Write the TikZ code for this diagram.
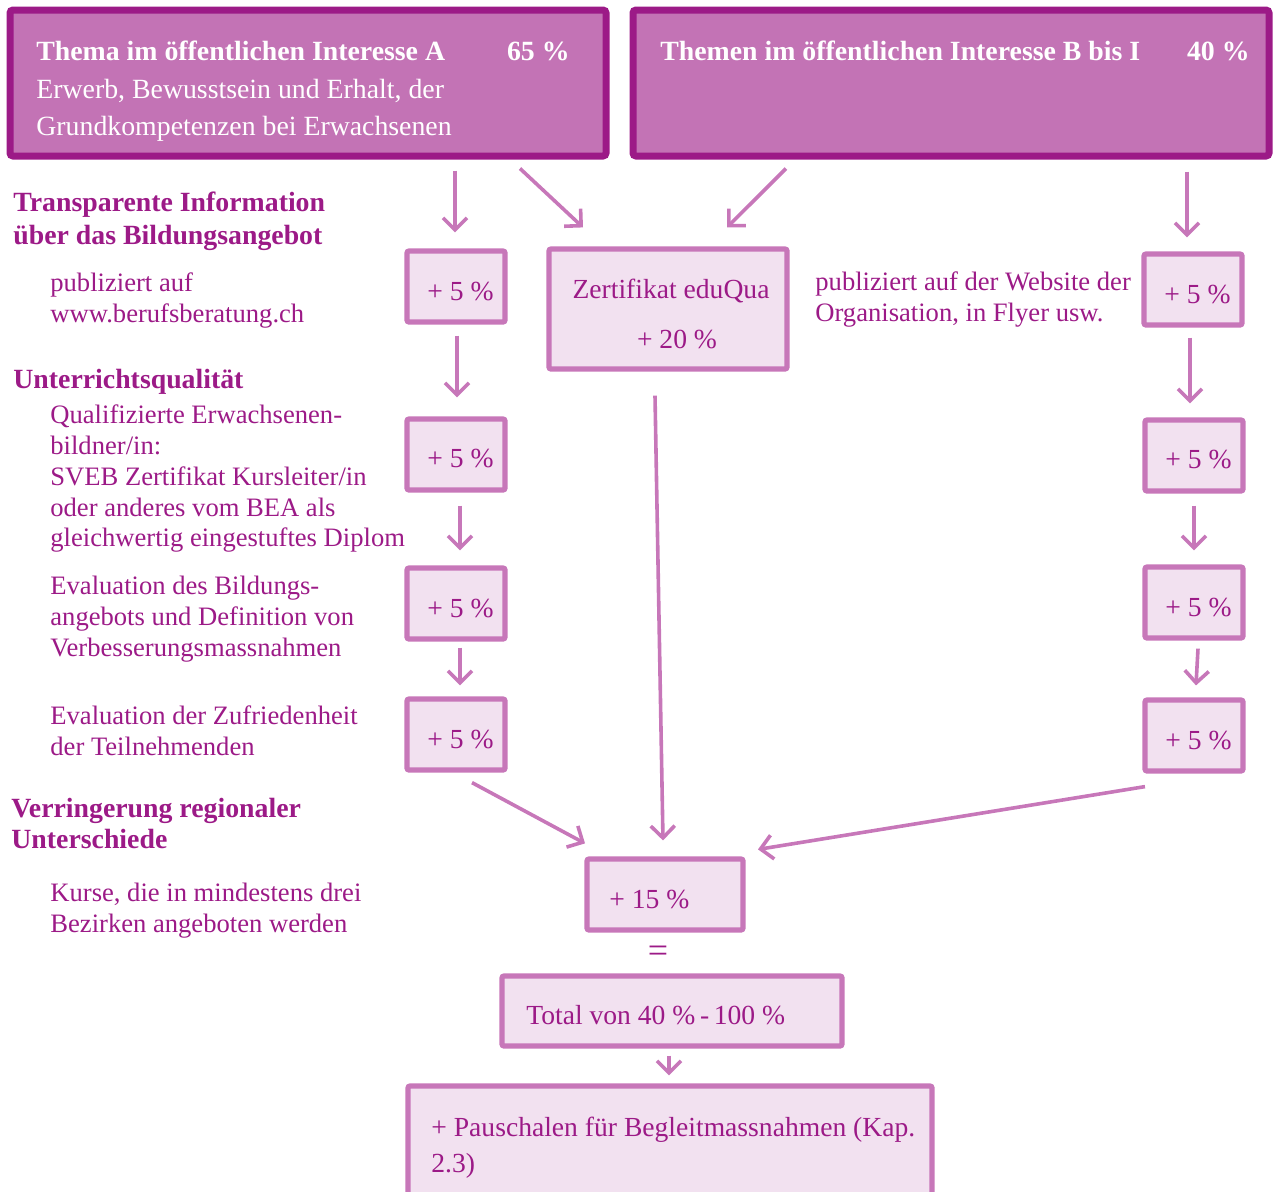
\documentclass[tikz,border=0pt]{standalone}
\usepackage{fontspec}
\setmainfont{Liberation Serif}
\usetikzlibrary{arrows.meta,calc}
\definecolor{dark}{HTML}{9C1A87}
\definecolor{mid}{HTML}{C373B5}
\definecolor{edge}{HTML}{C777B9}
\definecolor{pale}{HTML}{F2E1F0}
\definecolor{txt}{HTML}{9C1A87}
\begin{document}
\begin{tikzpicture}[x=0.5pt,y=-0.5pt,
  bigbox/.style={draw=dark,fill=mid,line width=3.5pt,rounded corners=1.5pt,inner sep=0pt},
  pbox/.style={draw=edge,fill=pale,line width=2.6pt,rounded corners=1pt,inner sep=0pt},
  wt/.style={text=white,font=\fontsize{13.9}{16}\selectfont,inner sep=0pt},
  wtb/.style={wt,font=\fontsize{13.9}{16}\selectfont\bfseries},
  pt/.style={text=txt,font=\fontsize{13.8}{16}\selectfont,inner sep=0pt},
  dt/.style={text=txt,font=\fontsize{13.3}{16}\selectfont,inner sep=0pt},
  ptb/.style={pt,font=\fontsize{13.9}{16}\selectfont\bfseries},
  arr/.style={draw=edge,line width=1.8pt,-{Straight Barb[length=6pt,width=12pt]}}]
\useasboundingbox (0,0) rectangle (1276,1191);
% big boxes
\node[bigbox,minimum width=298pt,minimum height=73pt] (A) at (308,83) {};
\node[bigbox,minimum width=318pt,minimum height=73pt] (B) at (951,83) {};
\node[wtb,anchor=base west] (At) at (36,60) {Thema im öffentlichen Interesse A};
\node[wtb,anchor=base east] (Ap) at (570,60) {65 \%};
\node[wt,anchor=base west] (A2) at (36,98) {Erwerb, Bewusstsein und Erhalt, der};
\node[wt,anchor=base west] (A3) at (36,135) {Grundkompetenzen bei Erwachsenen};
\node[wtb,anchor=base west] (Bt) at (660,60) {Themen im öffentlichen Interesse B bis I};
\node[wtb,anchor=base east] (Bp) at (1250,60) {40 \%};
% left descriptions
\node[ptb,anchor=base west] (h1a) at (13,211) {Transparente Information};
\node[ptb,anchor=base west] (h1b) at (13,244) {über das Bildungsangebot};
\node[dt,anchor=base west] (d1a) at (50,291) {publiziert auf};
\node[dt,anchor=base west] (d1b) at (50,322) {www.berufsberatung.ch};
\node[ptb,anchor=base west] (h2) at (13,388) {Unterrichtsqualität};
\node[dt,anchor=base west] (d2a) at (50,423) {Qualifizierte Erwachsenen-};
\node[dt,anchor=base west] (d2b) at (50,454) {bildner/in:};
\node[dt,anchor=base west] (d2c) at (50,485) {SVEB Zertifikat Kursleiter/in};
\node[dt,anchor=base west] (d2d) at (50,516) {oder anderes vom BEA als};
\node[dt,anchor=base west] (d2e) at (50,546) {gleichwertig eingestuftes Diplom};
\node[dt,anchor=base west] (d3a) at (50,594) {Evaluation des Bildungs-};
\node[dt,anchor=base west] (d3b) at (50,625) {angebots und Definition von};
\node[dt,anchor=base west] (d3c) at (50,656) {Verbesserungsmassnahmen};
\node[dt,anchor=base west] (d4a) at (50,724) {Evaluation der Zufriedenheit};
\node[dt,anchor=base west] (d4b) at (50,755) {der Teilnehmenden};
\node[ptb,anchor=base west] (h3a) at (11,817) {Verringerung regionaler};
\node[ptb,anchor=base west] (h3b) at (11,848) {Unterschiede};
\node[dt,anchor=base west] (d5a) at (50,901) {Kurse, die in mindestens drei};
\node[dt,anchor=base west] (d5b) at (50,932) {Bezirken angeboten werden};
\node[dt,anchor=base west] (r1a) at (815,290) {publiziert auf der Website der};
\node[dt,anchor=base west] (r1b) at (815,321) {Organisation, in Flyer usw.};
% left column boxes
\node[pbox,minimum width=49pt,minimum height=35.5pt] (l1) at (456,286.5) {};
\node[pbox,minimum width=49pt,minimum height=35.5pt] (l2) at (456,454.5) {};
\node[pbox,minimum width=49pt,minimum height=35.5pt] (l3) at (456,603.5) {};
\node[pbox,minimum width=49pt,minimum height=35.5pt] (l4) at (456,734.5) {};
\node[pt,anchor=base east] (l1t) at (494,300) {+ 5 \%};
\node[pt,anchor=base east] (l2t) at (494,467) {+ 5 \%};
\node[pt,anchor=base east] (l3t) at (494,617) {+ 5 \%};
\node[pt,anchor=base east] (l4t) at (494,748) {+ 5 \%};
% right column boxes
\node[pbox,minimum width=49pt,minimum height=35.5pt] (r1) at (1193,289.5) {};
\node[pbox,minimum width=49pt,minimum height=35.5pt] (r2) at (1194,455.5) {};
\node[pbox,minimum width=49pt,minimum height=35.5pt] (r3) at (1194,602.5) {};
\node[pbox,minimum width=49pt,minimum height=35.5pt] (r4) at (1194,735.5) {};
\node[pt,anchor=base east] (r1t) at (1231,303) {+ 5 \%};
\node[pt,anchor=base east] (r2t) at (1232,468) {+ 5 \%};
\node[pt,anchor=base east] (r3t) at (1232,616) {+ 5 \%};
\node[pt,anchor=base east] (r4t) at (1232,749) {+ 5 \%};
% eduQua
\node[pbox,minimum width=119pt,minimum height=60pt] (E) at (668,309) {};
\node[pt,anchor=base] (Et1) at (671,298) {Zertifikat eduQua};
\node[pt,anchor=base] (Et2) at (677,348) {+ 20 \%};
% sum
\node[pbox,minimum width=78pt,minimum height=35.5pt] (S) at (665,894.5) {};
\node[pt,anchor=base west] (St) at (609,908) {+ 15 \%};
\node[text=txt,font=\fontsize{18}{20}\selectfont,inner sep=0pt] (eq) at (658,954) {=};
\node[pbox,minimum width=170pt,minimum height=35pt] (T) at (672,1011) {};
\node[pt,anchor=base west] (Tt) at (526,1024) {Total von 40 \%\,-\,100 \%};
\node[pbox,minimum width=262pt,minimum height=70pt] (P) at (670,1156) {};
\node[pt,anchor=base west] (Pt1) at (431,1136) {+ Pauschalen für Begleitmassnahmen (Kap.};
\node[pt,anchor=base west] (Pt2) at (431,1172) {2.3)};
% arrows
\draw[arr] ($(A.south)+(147,11)$) -- ($(l1.north)+(-1,-16)$);
\draw[arr] ($(A.south)+(212,9)$) -- ($(E.north)+(-85,-19)$);
\draw[arr] ($(B.south)+(-165,9)$) -- ($(E.north)+(59,-19)$);
\draw[arr] ($(B.south)+(236,12)$) -- ($(r1.north)+(-6,-14)$);
\draw[arr] ($(l1.south)+(1,11)$) -- ($(l2.north)+(1,-19)$);
\draw[arr] ($(l2.south)+(4,13)$) -- ($(l3.north)+(4,-15)$);
\draw[arr] ($(l3.south)+(4,6)$) -- ($(l4.north)+(4,-11)$);
\draw[arr] ($(l4.south)+(16,10)$) -- ($(S.north)+(-80,-13)$);
\draw[arr] ($(E.south)+(-13,24)$) -- ($(S.north)+(-2,-16)$);
\draw[arr] ($(r4.south)+(-49,13)$) -- ($(S.north)+(93,-7)$);
\draw[arr] ($(r1.south)+(-3,10)$) -- ($(r2.north)+(-4,-14)$);
\draw[arr] ($(r2.south)+(0,12)$) -- ($(r3.north)+(0,-14)$);
\draw[arr] ($(r3.south)+(4,8)$) -- ($(r4.north)+(2,-12)$);
\draw[arr] ($(T.south)+(-3,7)$) -- ($(P.north)+(-1,-8)$);
\end{tikzpicture}
\end{document}
